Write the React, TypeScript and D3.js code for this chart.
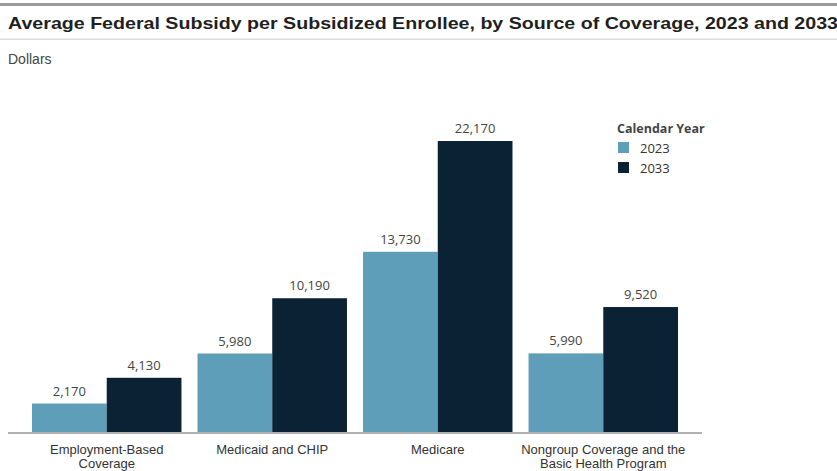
import React from "react";
import * as d3 from "d3";

const categories = [
  ["Employment-Based", "Coverage"],
  ["Medicaid and CHIP"],
  ["Medicare"],
  ["Nongroup Coverage and the", "Basic Health Program"],
];
const seriesNames = ["2023", "2033"];
const values2023 = [2170, 5980, 13730, 5990];
const values2033 = [4130, 10190, 22170, 9520];
const colors = ["#5f9eb8", "#0b2235"];

const W = 837;
const H = 471;
const baseY = 432;

export default function App() {
  const x = d3
    .scaleBand<number>()
    .domain(categories.map((_, i) => i))
    .range([8, 702])
    .paddingInner(0.097)
    .paddingOuter(0.145);
  const x1 = d3.scaleBand<number>().domain([0, 1]).range([0, x.bandwidth()]);
  const y = d3.scaleLinear().domain([0, 22170]).range([baseY, 141]);
  const series = [values2023, values2033];
  const fmt = d3.format(",");
  const labelFont = "'Liberation Sans', Arial, sans-serif";
  return (
    <svg width={W} height={H} style={{ position: "absolute", left: 0, top: 0, background: "#fff" }}>
      <rect x={0} y={3} width={W} height={3} fill="#9a9a9a" />
      <text x={8} y={29} fontFamily="'Liberation Sans', Arial, sans-serif" fontWeight="bold" fontSize={17} fill="#1f1f1f" textLength={830} lengthAdjust="spacingAndGlyphs">
        Average Federal Subsidy per Subsidized Enrollee, by Source of Coverage, 2023 and 2033
      </text>
      <rect x={0} y={38.5} width={W} height={1.5} fill="#dcdcdc" />
      <text x={8} y={64} fontFamily="'Liberation Sans', Arial, sans-serif" fontSize={14} fill="#444">
        Dollars
      </text>
      {categories.map((_, i) =>
        series.map((vals, s) => {
          const bx = (x(i) as number) + (x1(s) as number);
          const v = vals[i];
          return (
            <g key={`${i}-${s}`}>
              <rect x={bx} y={y(v)} width={x1.bandwidth()} height={baseY - y(v)} fill={colors[s]} />
              <text x={bx + x1.bandwidth() / 2} y={y(v) - 8} textAnchor="middle" fontFamily="'Open Sans', Arial, sans-serif" fontSize={13} fill="#444">
                {fmt(v)}
              </text>
            </g>
          );
        })
      )}
      <line x1={8} x2={702} y1={baseY + 1} y2={baseY + 1} stroke="#b0b0b0" strokeWidth={2} />
      {categories.map((lines, i) => (
        <text key={i} textAnchor="middle" fontFamily={labelFont} fontSize={13} fill="#333">
          {lines.map((l, j) => (
            <tspan key={j} x={(x(i) as number) + x.bandwidth() / 2} y={454 + j * 14}>
              {l}
            </tspan>
          ))}
        </text>
      ))}
      <g>
        <text x={617} y={133} fontFamily="'Open Sans', Arial, sans-serif" fontWeight="bold" fontSize={12.5} fill="#444">
          Calendar Year
        </text>
        {seriesNames.map((n, i) => (
          <g key={n}>
            <rect x={618} y={142 + i * 20} width={11} height={11} fill={colors[i]} />
            <text x={640} y={153 + i * 20} fontFamily="'Open Sans', Arial, sans-serif" fontSize={13} fill="#333">
              {n}
            </text>
          </g>
        ))}
      </g>
    </svg>
  );
}
